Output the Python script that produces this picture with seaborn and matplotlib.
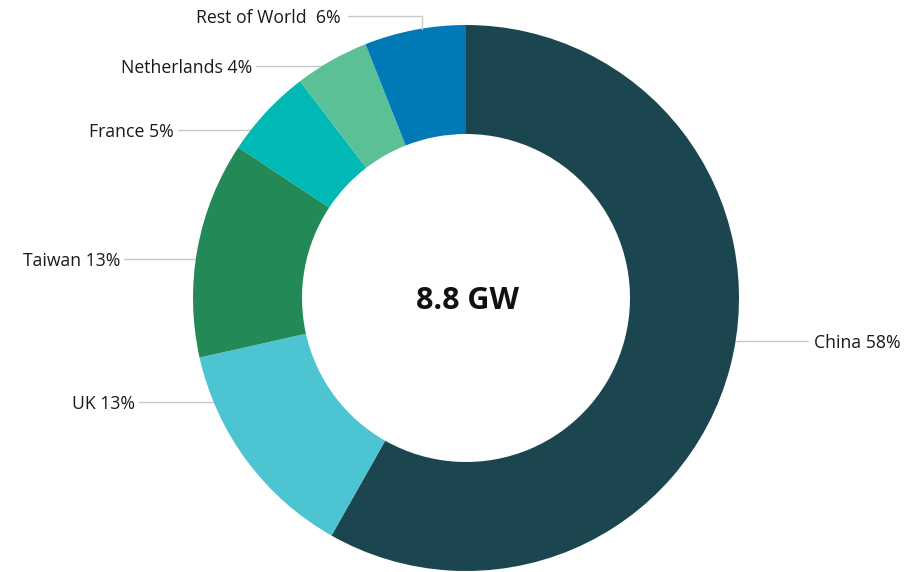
import numpy as np
import matplotlib
matplotlib.use("Agg")
import matplotlib.pyplot as plt
import seaborn as sns

categories = ["China", "UK", "Taiwan", "France", "Netherlands", "Rest of World"]
values = [58.2, 13.3, 12.8, 5.3, 4.4, 6.0]
colors = ["#1b4650", "#4cc4d1", "#238a57", "#00b8b4", "#5cc097", "#007ab6"]
center_text = "8.8 GW"

sns.set_theme(style="white")
plt.rcParams["font.family"] = ["Open Sans", "DejaVu Sans"]

W, H = 907, 572
fig = plt.figure(figsize=(W / 100, H / 100), dpi=100)
ax = fig.add_axes([0, 0, 1, 1])

cx, cy = 466, H - 298
R, r_in = 273, 164
pal = sns.color_palette(colors)
ax.pie(values, colors=pal, startangle=90, counterclock=False,
       radius=R, center=(cx, cy), frame=True,
       wedgeprops=dict(width=R - r_in, linewidth=0))
ax.set_xlim(0, W)
ax.set_ylim(0, H)
ax.axis("off")

# label layout (pixel positions, top-left origin): y, side, line start
layout = {
    "China": (341, "right", 808),
    "UK": (402, "left", 139),
    "Taiwan": (259, "left", 124),
    "France": (130, "left", 178),
    "Netherlands": (66, "left", 256),
}
line_color = "#c8c8c8"
fs = 12.7
tc = "#1a1a1a"
toff = 2  # text baseline offset in px
for cat, v in zip(categories, values):
    pct = f"{round(v):d}%"
    if cat == "Rest of World":
        y = H - 16
        ax.plot([348, 422, 422], [y, y, H - 29], color=line_color, lw=1)
        ax.text(341, y - toff, f"{cat}  {pct}", ha="right", va="center", fontsize=fs, color=tc)
        continue
    py, side, x0 = layout[cat]
    y = H - py
    dy = y - cy
    edge = np.sqrt(R ** 2 - dy ** 2)
    if side == "right":
        x1 = cx + edge - 2
        ax.plot([x1, x0], [y, y], color=line_color, lw=1, zorder=0)
        ax.text(x0 + 6, y - toff, f"{cat} {pct}", ha="left", va="center", fontsize=fs, color=tc)
    else:
        x1 = cx - edge + 2
        ax.plot([x0, x1], [y, y], color=line_color, lw=1, zorder=0)
        ax.text(x0 - 4, y - toff, f"{cat} {pct}", ha="right", va="center", fontsize=fs, color=tc)

ax.text(cx + 1, cy - 3, center_text, ha="center", va="center", fontsize=22, fontweight="bold", color="#111111")

fig.savefig("out.png", dpi=100, facecolor="white")
